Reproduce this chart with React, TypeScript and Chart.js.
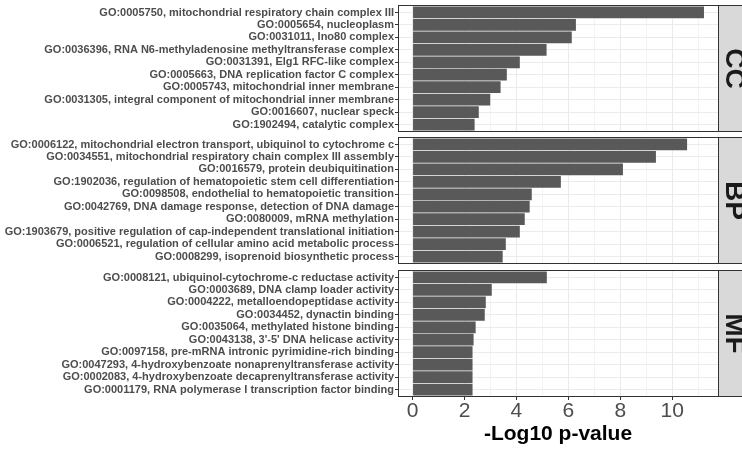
import { useEffect, useRef } from "react";
import { Chart, registerables } from "chart.js";

Chart.register(...registerables);

const ccLabels = [
  "GO:0005750, mitochondrial respiratory chain complex III",
  "GO:0005654, nucleoplasm",
  "GO:0031011, Ino80 complex",
  "GO:0036396, RNA N6-methyladenosine methyltransferase complex",
  "GO:0031391, Elg1 RFC-like complex",
  "GO:0005663, DNA replication factor C complex",
  "GO:0005743, mitochondrial inner membrane",
  "GO:0031305, integral component of mitochondrial inner membrane",
  "GO:0016607, nuclear speck",
  "GO:1902494, catalytic complex",
];
const ccValues = [11.22, 6.29, 6.13, 5.16, 4.13, 3.63, 3.39, 2.99, 2.55, 2.39];

const bpLabels = [
  "GO:0006122, mitochondrial electron transport, ubiquinol to cytochrome c",
  "GO:0034551, mitochondrial respiratory chain complex III assembly",
  "GO:0016579, protein deubiquitination",
  "GO:1902036, regulation of hematopoietic stem cell differentiation",
  "GO:0098508, endothelial to hematopoietic transition",
  "GO:0042769, DNA damage response, detection of DNA damage",
  "GO:0080009, mRNA methylation",
  "GO:1903679, positive regulation of cap-independent translational initiation",
  "GO:0006521, regulation of cellular amino acid metabolic process",
  "GO:0008299, isoprenoid biosynthetic process",
];
const bpValues = [10.57, 9.37, 8.1, 5.71, 4.59, 4.51, 4.32, 4.13, 3.59, 3.47];

const mfLabels = [
  "GO:0008121, ubiquinol-cytochrome-c reductase activity",
  "GO:0003689, DNA clamp loader activity",
  "GO:0004222, metalloendopeptidase activity",
  "GO:0034452, dynactin binding",
  "GO:0035064, methylated histone binding",
  "GO:0043138, 3'-5' DNA helicase activity",
  "GO:0097158, pre-mRNA intronic pyrimidine-rich binding",
  "GO:0047293, 4-hydroxybenzoate nonaprenyltransferase activity",
  "GO:0002083, 4-hydroxybenzoate decaprenyltransferase activity",
  "GO:0001179, RNA polymerase I transcription factor binding",
];
const mfValues = [5.17, 3.05, 2.82, 2.78, 2.43, 2.35, 2.31, 2.31, 2.31, 2.31];

const stripNames = ["CC", "BP", "MF"];
const xGridValues = [0, 1, 2, 3, 4, 5, 6, 7, 8, 9, 10, 11];
const xLabelValues = [0, 2, 4, 6, 8, 10];
const xTitle = "-Log10 p-value";

const FONT = "'Liberation Sans', Arial, Helvetica, sans-serif";

const panelPlugin = {
  id: "panelDecor",
  afterDraw(chart: any) {
    const { ctx, chartArea } = chart;
    const { left, right, top, bottom } = chartArea;
    const strip = chart.options.plugins.panelDecor.strip;
    ctx.save();
    ctx.fillStyle = "#D9D9D9";
    ctx.fillRect(right, top, 40, bottom - top);
    ctx.strokeStyle = "#333333";
    ctx.lineWidth = 1;
    ctx.strokeRect(right + 0.5, top + 0.5, 40, bottom - top - 1);
    ctx.strokeRect(left + 0.5, top + 0.5, right - left, bottom - top - 1);
    ctx.translate(right + 8, (top + bottom) / 2);
    ctx.rotate(Math.PI / 2);
    ctx.fillStyle = "#1A1A1A";
    ctx.font = `bold 28px ${FONT}`;
    ctx.textAlign = "center";
    ctx.textBaseline = "alphabetic";
    ctx.fillText(strip, 0, 0);
    ctx.restore();
  },
};

type PanelProps = {
  labels: string[];
  values: number[];
  strip: string;
  top: number;
  height: number;
  padTop: number;
  padBottom: number;
  showAxis: boolean;
};

function Panel({ labels, values, strip, top, height, padTop, padBottom, showAxis }: PanelProps) {
  const ref = useRef<HTMLCanvasElement>(null);
  useEffect(() => {
    if (!ref.current) return;
    const chart = new Chart(ref.current, {
      type: "bar",
      data: {
        datasets: [
          {
            data: values.map((v, i) => ({ x: v, y: i })),
            backgroundColor: "#595959",
            borderWidth: 0,
            barPercentage: 0.94,
            categoryPercentage: 1,
          },
        ],
      },
      options: {
        indexAxis: "y",
        animation: false,
        responsive: false,
        maintainAspectRatio: false,
        layout: { padding: { top: padTop, bottom: padBottom, left: 0, right: 24 } },
        plugins: {
          legend: { display: false },
          tooltip: { enabled: false },
          panelDecor: { strip },
        } as any,
        scales: {
          x: {
            type: "linear",
            position: "bottom",
            min: -0.56,
            max: 11.76,
            offset: false,
            afterBuildTicks: (s: any) => {
              s.ticks = xGridValues.map((v) => ({ value: v }));
            },
            afterFit: (s: any) => {
              s.height = showAxis ? 52 : 0;
            },
            border: { display: false },
            grid: {
              offset: false,
              color: (c: any) => (c.tick && c.tick.value % 2 === 0 ? "#EBEBEB" : "#F3F3F3"),
              lineWidth: 1,
              drawTicks: showAxis,
              tickLength: 3,
              tickColor: (c: any) =>
                c.tick && xLabelValues.includes(c.tick.value) ? "#333333" : "rgba(0,0,0,0)",
            },
            ticks: {
              display: showAxis,
              autoSkip: false,
              maxRotation: 0,
              padding: 1,
              color: "#4D4D4D",
              font: { family: FONT, size: 21, lineHeight: 1 },
              callback: (v: any) => (xLabelValues.includes(v) ? String(v) : ""),
            },
            title: {
              display: showAxis,
              text: xTitle,
              color: "#000000",
              font: { family: FONT, size: 21, weight: "bold", lineHeight: 1.2 },
              padding: { top: 0, bottom: 2 },
            },
          },
          y: {
            type: "linear",
            min: -0.6,
            max: 9.6,
            reverse: true,
            offset: false,
            afterBuildTicks: (s: any) => {
              s.ticks = labels.map((_, i) => ({ value: i }));
            },
            afterFit: (s: any) => {
              s.width = 398;
            },
            border: { display: false },
            grid: {
              offset: false,
              color: "#EBEBEB",
              lineWidth: 1,
              drawTicks: true,
              tickLength: 3,
              tickColor: "#333333",
            },
            ticks: {
              autoSkip: false,
              padding: 1,
              color: "#4D4D4D",
              font: { family: FONT, size: 11, weight: "bold" },
              callback: (v: any) => labels[v] ?? "",
            },
          },
        },
      } as any,
      plugins: [panelPlugin],
    });
    return () => chart.destroy();
  }, []);
  return (
    <canvas
      ref={ref}
      width={742}
      height={height}
      style={{ position: "absolute", left: 0, top, width: 742, height, display: "block" }}
    />
  );
}

export default function App() {
  return (
    <div
      style={{
        position: "fixed",
        left: 0,
        top: 0,
        width: 742,
        height: 449,
        background: "#FFFFFF",
        overflow: "hidden",
      }}
    >
      <Panel labels={ccLabels} values={ccValues} strip={stripNames[0]} top={-5} height={145} padTop={10} padBottom={8} showAxis={false} />
      <Panel labels={bpLabels} values={bpValues} strip={stripNames[1]} top={127} height={145} padTop={10} padBottom={8} showAxis={false} />
      <Panel labels={mfLabels} values={mfValues} strip={stripNames[2]} top={260} height={189} padTop={10} padBottom={0} showAxis={true} />
    </div>
  );
}
